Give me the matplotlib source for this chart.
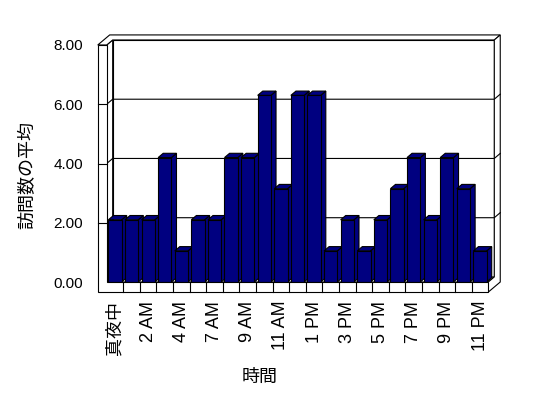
import matplotlib.pyplot as plt
from matplotlib.patches import Polygon

# categories (hour of day) and average visit counts
hours = ['真夜中', '1 AM', '2 AM', '3 AM', '4 AM', '6 AM', '7 AM', '8 AM',
         '9 AM', '10 AM', '11 AM', '正午', '1 PM', '2 PM', '3 PM', '4 PM',
         '5 PM', '6 PM', '7 PM', '8 PM', '9 PM', '10 PM', '11 PM']
visits = [2.1, 2.1, 2.1, 4.2, 1.05, 2.1, 2.1, 4.2, 4.2, 6.3, 3.15, 6.3,
          6.3, 1.05, 2.1, 1.05, 2.1, 3.15, 4.2, 2.1, 4.2, 3.15, 1.05]
y_ticks = [0, 2, 4, 6, 8]

plt.rcParams['font.family'] = ['Liberation Sans', 'Noto Sans CJK JP']

fig = plt.figure(figsize=(5.48, 3.98), dpi=100)
ax = fig.add_axes([106.7 / 548, 116 / 398, 381.6 / 548, 237 / 398])
n = len(hours)
x0, x1 = -0.5, n - 0.5
top = y_ticks[-1]
ax.set_xlim(x0, x1)
ax.set_ylim(0, top)
for s in ax.spines.values():
    s.set_visible(False)

# fake 3D depth (data units)
DX, DY = 0.36, 0.17
LW, FT = 0.54, 0.34
LWD = 0.8
NAVY = '#000080'


def face(pts, fc='white', z=1):
    ax.add_patch(Polygon(pts, closed=True, fc=fc, ec='black', lw=LWD,
                         clip_on=False, zorder=z, joinstyle='miter'))


def line(xs, ys, z=1.5):
    ax.plot(xs, ys, color='black', lw=LWD, clip_on=False, zorder=z)


# back wall, left wall inner face, floor top
face([(x0 + DX, DY), (x1 + DX, DY), (x1 + DX, top + DY), (x0 + DX, top + DY)])
face([(x0, 0), (x0 + DX, DY), (x0 + DX, top + DY), (x0, top)])
face([(x0, 0), (x1, 0), (x1 + DX, DY), (x0 + DX, DY)])
# top of walls
face([(x0 - LW, top), (x0, top), (x0 + DX, top + DY), (x1 + DX, top + DY),
      (x1 + 2 * DX, top + 2 * DY), (x0 - LW + 2 * DX, top + 2 * DY)])
# right side of back wall / floor
face([(x1 + DX, top + DY), (x1 + 2 * DX, top + 2 * DY),
      (x1 + 2 * DX, 2 * DY - FT), (x1, -FT), (x1, 0), (x1 + DX, DY)])
# front of left wall and floor
face([(x0 - LW, -FT), (x1, -FT), (x1, 0), (x0, 0), (x0, top), (x0 - LW, top)],
     z=3)
for k in range(n - 1):
    line([k + 0.5, k + 0.5], [-FT, 0], z=3.1)

# gridlines on the walls, ticks on the wall front
for t in y_ticks[1:-1]:
    line([x0 - LW, x0], [t, t], z=3.1)
    line([x0, x0 + DX, x1 + DX, x1 + 2 * DX],
         [t, t + DY, t + DY, t + 2 * DY], z=1.5)

# bars
w = 0.8
bx, by = DX * 0.85, DY * 0.85
for i, v in enumerate(visits):
    z = 2 + i * 0.01
    xl, xr = i - w / 2, i + w / 2
    face([(xr, 0), (xr + bx, by), (xr + bx, v + by), (xr, v)], NAVY, z)
    face([(xl, v), (xl + bx, v + by), (xr + bx, v + by), (xr, v)], NAVY, z)
    face([(xl, 0), (xr, 0), (xr, v), (xl, v)], NAVY, z + 0.005)

ax.set_yticks(y_ticks)
ax.set_yticklabels([f'{t:.2f}' for t in y_ticks], fontsize=11)
ax.set_xticks(range(0, n, 2))
ax.set_xticklabels(hours[::2], rotation=90, fontsize=13)
ax.tick_params(axis='y', length=0, pad=17)
ax.tick_params(axis='x', length=0, pad=13.5)

fig.text(27.5 / 548, 1 - 175 / 398, '訪問数の平均', rotation=90,
         ha='center', va='center', fontsize=13)
fig.text(260 / 548, 1 - 377 / 398, '時間', ha='center', va='center',
         fontsize=13)

fig.savefig('out.png', dpi=100)
